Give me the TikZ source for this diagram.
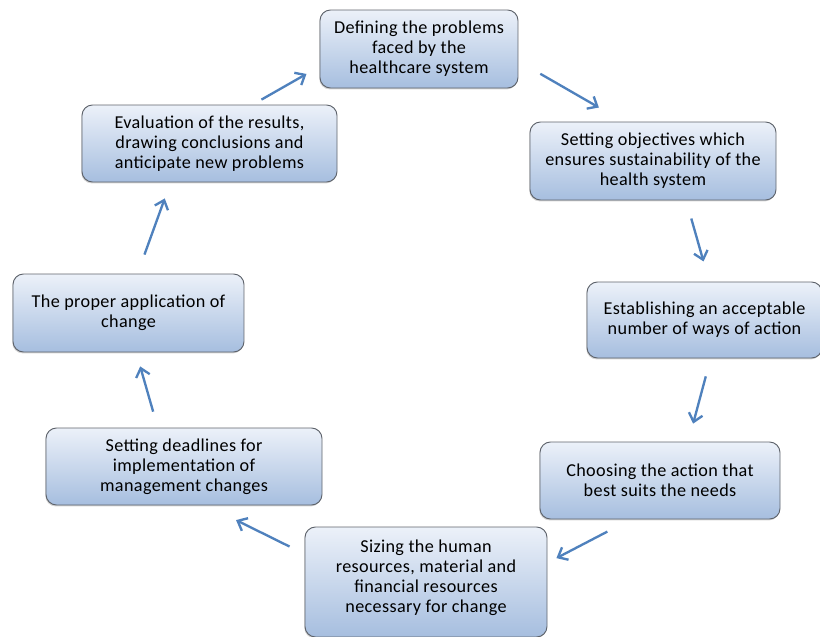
\documentclass[tikz,border=0pt]{standalone}
\usepackage{fontspec}
\setmainfont[LetterSpace=2]{Carlito}
\usetikzlibrary{arrows.meta,shadows}
\definecolor{boxtop}{RGB}{236,241,249}
\definecolor{boxbot}{RGB}{166,190,223}
\definecolor{boxline}{RGB}{95,100,108}
\definecolor{arrblue}{RGB}{79,129,189}

\begin{document}
\begin{tikzpicture}[x=0.03cm, y=-0.03cm,
    box/.style={draw=boxline, line width=0.8pt, rounded corners=9pt,
                top color=boxtop, bottom color=boxbot, align=center,
                inner sep=2pt, font=\fontsize{15.5}{17}\selectfont,
                drop shadow={shadow xshift=-0.6pt, shadow yshift=-1.2pt, opacity=0.35}},
    arr/.style={draw=arrblue, line width=2pt, -{Straight Barb[length=7pt,width=12pt]}}]
  \clip (0,0) rectangle (820,636);
  \node[box, minimum width=5.94cm, minimum height=2.34cm] (defprob) at (419,49)
       {Defining the problems\\ faced by the\\ healthcare system};
  \node[box, minimum width=7.38cm, minimum height=2.34cm] (objectives) at (653,161)
       {Setting objectives which\\ ensures sustainability of the\\ health system};
  \node[box, minimum width=7.05cm, minimum height=2.28cm] (ways) at (704.5,320)
       {Establishing an acceptable\\ number of ways of action};
  \node[box, minimum width=7.2cm, minimum height=2.31cm] (choose) at (660,480.5)
       {Choosing the action that\\ best suits the needs};
  \node[box, minimum width=7.26cm, minimum height=3.3cm] (sizing) at (426,582)
       {Sizing the human\\ resources, material and\\ financial resources\\ necessary for change\\[-7pt]\mbox{}};
  \node[box, minimum width=8.28cm, minimum height=2.31cm] (deadlines) at (184,466.5)
       {Setting deadlines for\\ implementation of\\ management changes};
  \node[box, minimum width=6.93cm, minimum height=2.34cm] (apply) at (128.5,313)
       {The proper application of\\ change};
  \node[box, minimum width=7.65cm, minimum height=2.31cm] (evaluate) at (209.5,143.5)
       {Evaluation of the results,\\ drawing conclusions and\\ anticipate new problems};
  % cycle arrows
  \draw[arr, shorten <=21.5pt, shorten >=24pt] (defprob.-7.8) -- (objectives.127.9);
  \draw[arr, shorten <=16pt, shorten >=17.8pt] (objectives.-50.9) -- (ways.83.4);
  \draw[arr, shorten <=15.8pt, shorten >=15.8pt] (ways.-81.9) -- (choose.54.9);
  \draw[arr, shorten <=22.4pt, shorten >=8.6pt] (choose.-127.5) -- (sizing.9.6);
  \draw[arr, shorten <=14.3pt, shorten >=28.1pt] (sizing.167.7) -- (deadlines.-60.8);
  \draw[arr, shorten <=14.1pt, shorten >=12.4pt] (deadlines.124.5) -- (apply.-79.1);
  \draw[arr, shorten <=17.2pt, shorten >=14.5pt] (apply.77.7) -- (evaluate.-135);
  \draw[arr, shorten <=8.5pt, shorten >=12.8pt] (evaluate.42.6) -- (defprob.-170.5);
\end{tikzpicture}
\end{document}
